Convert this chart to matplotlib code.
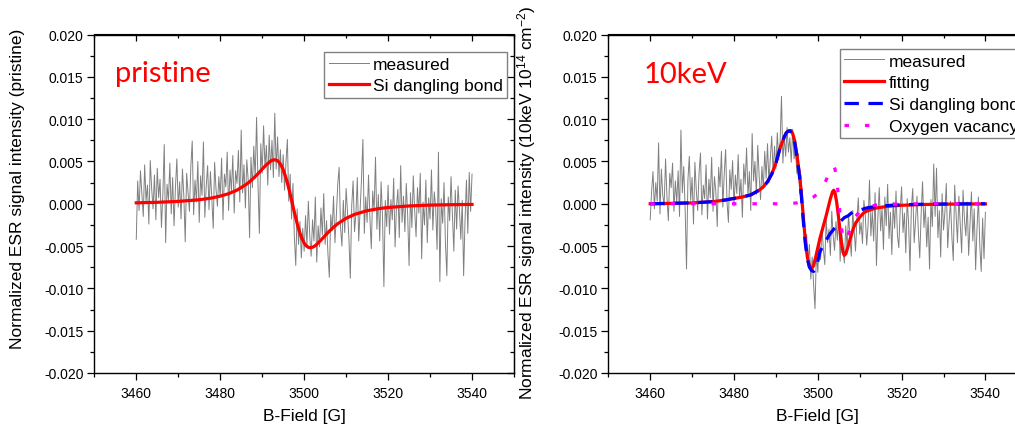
import numpy as np
import matplotlib.pyplot as plt
from matplotlib.ticker import MultipleLocator, FormatStrFormatter

plt.rcParams['font.family'] = 'Liberation Sans'
plt.rcParams['mathtext.fontset'] = 'custom'
plt.rcParams['mathtext.rm'] = 'Liberation Sans'
plt.rcParams['mathtext.it'] = 'Liberation Sans:italic'

# B-field sweep of the measured traces (241 samples, 3460..3540 G)
field_start, field_stop = 3460, 3540

# measured ESR signal, pristine sample (x1e-3)
pristine_measured = [
    -4.2, 2.7, -0.8, 3.9, 1.2, -1.5, 4.6, 0.3, 2.2, -2.4, 5.1, 1.8, -0.6, 3.4, -1.9, 4.2, 0.7, 2.9, -2.8, 1.1,
    7.0, -4.6, 2.3, 0.4, 4.8, -1.2, 3.1, -2.6, 1.9, 5.3, -0.4, 2.6, -1.8, 4.1, 0.9, -4.5, 3.6, 1.4, -0.9, 4.4,
    7.4, -1.3, 2.8, 0.2, 5.0, -2.2, 3.3, 1.0, 7.3, -1.6, 2.1, 4.5, -0.7, 3.8, 0.6, -2.9, 4.9, 1.7, -0.3, 3.2,
    0.8, 5.4, -1.9, 3.5, 2.0, 6.1, -0.8, 4.0, 1.5, 5.7, -1.1, 3.9, 2.4, 6.3, 0.2, 8.7, 1.3, 4.6, -0.5, 5.2,
    2.8, -4.0, 5.5, 1.9, 6.8, 3.0, 10.2, 2.4, -3.5, 7.1, 3.6, 9.2, 4.3, 6.9, 2.2, 8.1, 4.0, 7.5, 3.1, 10.7,
    4.1, 7.9, 3.2, 6.4, 2.5, 5.8, 1.6, 4.9, 7.6, 0.3, 3.5, -1.8, 2.4, -3.9, -7.3, -0.6, -4.8, -2.1, -6.4, -2.9,
    -5.6, -1.4, -4.9, 0.3, -3.8, -6.2, -1.9, -4.4, 0.8, -6.9, -2.6, -5.1, -0.5, -3.7, 1.2, -4.8, -2.0, -5.9, -8.7, -1.3,
    -3.2, 0.9, -4.6, -1.5, 2.3, 4.3, -2.8, -5.0, 0.4, -3.4, 1.8, -1.0, -4.1, -8.8, -0.2, 2.7, -3.3, -1.2, 3.1, -4.4,
    -0.6, 2.9, 7.6, -3.5, 0.8, -2.2, 3.4, -1.7, -5.3, 1.5, -0.9, 5.5, -3.0, 1.1, -4.4, 2.6, -1.5, -9.8, 0.4, -2.7,
    2.2, -3.6, 0.5, -1.9, 3.0, -5.1, -0.3, 1.7, -4.0, 4.5, -2.2, 0.9, -3.3, 2.4, -1.4, -7.3, 1.3, -2.8, 3.3, -0.8,
    -3.9, 1.9, -1.1, 3.6, -6.5, 0.2, -2.5, 2.8, -4.6, 0.7, -1.8, 4.0, -3.1, 1.4, -0.4, -5.4, 6.1, -9.2, 0.6, -2.3,
    2.5, -4.7, -8.5, 0.8, -2.0, 3.2, -1.4, -5.6, 1.6, -3.0, 2.1, -0.7, -4.2, 0.4, -8.5, -1.9, 2.8, -3.5, 3.7, -0.9,
    3.5,
]

# measured ESR signal, 10keV implanted sample (x1e-3)
kev10_measured = [
    -1.9, 1.4, 3.8, -0.6, 2.5, 0.3, 7.2, -1.2, 4.1, 1.0, -0.2, 5.3, 0.8, -2.0, 3.6, 1.9, 4.8, -0.9, 2.7, 0.1,
    3.9, -1.5, 8.7, 1.3, 4.4, -0.5, -7.7, 2.8, 5.6, 0.4, 3.1, -2.4, 4.9, 1.6, -0.8, 3.7, 6.0, -1.3, 2.2, 0.6,
    4.6, -1.8, 2.9, 0.7, 5.5, -0.9, 3.2, 1.4, -2.7, 4.3, 2.0, 6.2, -0.4, 3.5, 6.4, 0.2, -2.2, 4.0, 1.7, 5.1,
    -0.3, 3.4, 1.2, 5.8, 0.6, 2.9, -1.6, 4.7, 2.3, 6.6, 0.9, 3.8, -0.8, 8.3, 2.7, 5.0, 1.1, 6.9, 3.3, 0.5,
    4.4, 1.8, 6.2, 3.0, 7.1, 2.5, 5.4, 8.0, 3.7, 6.8, 4.1, 8.4, 5.2, 7.3, 12.7, 4.8, 7.9, 5.6, 9.0, 6.1,
    7.8, 4.9, 8.8, 5.3, 6.5, 3.6, 5.9, 1.2, 3.4, -0.8, -2.9, -5.1, -3.6, -7.0, -4.8, -8.9, -6.3, -9.6, -12.4, -5.7,
    -8.1, -4.2, -6.6, -2.9, -5.4, -7.2, -1.8, -4.6, -3.0, -6.1, -0.9, -3.8, -5.5, -2.1, -4.3, -0.6, -6.8, -3.2, -5.0, -7.0,
    -2.6, -5.3, -1.2, -4.0, -6.2, -0.8, -3.1, -5.6, -1.9, 0.7, -3.6, -2.2, -4.7, 0.4, -1.4, -4.9, -2.5, 2.8, -3.8, -0.9,
    -4.4, 1.3, -7.3, -1.7, 1.9, -3.2, -0.5, -5.4, 0.8, -2.6, 2.3, -4.1, -1.0, -6.0, 0.2, -2.9, 1.5, -3.7, -5.2, -0.7,
    2.0, -3.4, -1.1, -5.8, 0.6, -2.3, -7.9, -0.4, 1.8, -4.6, -2.0, 0.9, -3.3, -6.4, -1.2, 2.6, -2.8, -0.3, -5.1, -1.6,
    -7.7, 0.5, -2.7, 4.7, -1.5, 4.2, -4.0, -0.8, -6.3, 1.2, -3.1, -1.0, 2.4, -5.2, -2.2, 0.3, -3.9, -6.7, 2.2, -1.3,
    -4.6, 0.9, -2.5, -5.8, 1.6, -1.9, -3.8, 0.2, -6.1, -2.3, 1.4, -4.4, -0.6, -7.8, -2.9, 0.8, -5.0, -8.0, -1.7, -6.5,
    -1.0,
]

# Si dangling bond fit, pristine (x1e-3)
pristine_fit_b = [3460, 3465, 3470, 3475, 3478, 3480, 3482, 3484, 3486, 3487, 3488, 3489, 3490, 3491, 3492,
                  3492.5, 3493, 3493.5, 3494, 3494.5, 3495, 3495.5, 3496, 3496.5, 3497, 3497.5, 3498, 3498.5,
                  3499, 3499.5, 3500, 3500.5, 3501, 3501.5, 3502, 3502.5, 3503, 3504, 3505, 3506, 3507, 3508,
                  3510, 3512, 3515, 3518, 3520, 3525, 3530, 3535, 3540]
pristine_fit = [0.11, 0.17, 0.28, 0.47, 0.68, 0.90, 1.19, 1.61, 2.22, 2.60, 3.05, 3.55, 4.09, 4.61, 5.03,
                5.16, 5.20, 5.13, 4.92, 4.56, 4.03, 3.33, 2.47, 1.49, 0.43, -0.65, -1.70, -2.66,
                -3.48, -4.15, -4.64, -4.97, -5.15, -5.20, -5.14, -5.00, -4.80, -4.30, -3.76, -3.24, -2.77, -2.36,
                -1.72, -1.26, -0.82, -0.56, -0.44, -0.26, -0.16, -0.11, -0.08]

# 10keV fit components (x1e-3)
kev10_fit_b = [3460, 3465, 3470, 3475, 3478, 3480, 3482, 3484, 3486, 3487, 3488, 3489, 3490, 3491, 3492,
               3492.5, 3493, 3493.5, 3494, 3494.5, 3495, 3495.5, 3496, 3496.5, 3497, 3497.5, 3498, 3498.5,
               3499, 3499.5, 3500, 3500.5, 3501, 3501.5, 3502, 3502.5, 3503, 3503.5, 3503.8, 3504.1, 3504.5,
               3505, 3505.5, 3506, 3506.3, 3506.7, 3507.3, 3508, 3508.5, 3509, 3510, 3511, 3512, 3514, 3516,
               3518, 3520, 3525, 3530, 3535, 3540]
kev10_fitting = [0.0, 0.05, 0.1, 0.25, 0.45, 0.63, 0.8, 1.05, 1.6, 2.0, 2.6, 3.5, 4.8, 6.6, 7.9,
                 8.4, 8.6, 8.65, 8.3, 7.4, 5.8, 4.0, 1.7, -1.3, -4.2, -6.3, -7.4, -7.7,
                 -7.3, -6.3, -5.2, -4.1, -3.2, -2.3, -1.4, -0.4, 0.6, 1.4, 1.6, 1.3, 0.2,
                 -1.8, -4.2, -5.7, -6.1, -5.9, -4.9, -3.7, -2.9, -2.3, -1.6, -1.05, -0.8, -0.5, -0.35,
                 -0.25, -0.18, -0.09, -0.05, -0.03, -0.02]
kev10_si_db = [0.0, 0.05, 0.1, 0.25, 0.45, 0.63, 0.8, 1.05, 1.6, 2.0, 2.6, 3.5, 4.8, 6.6, 7.9,
               8.4, 8.6, 8.6, 8.2, 7.2, 5.6, 3.8, 1.4, -1.8, -4.6, -6.5, -7.5, -7.9,
               -8.0, -7.7, -6.8, -5.7, -5.2, -4.7, -4.3, -3.9, -3.5, -3.2, -3.0, -2.85, -2.6,
               -2.3, -2.05, -1.8, -1.65, -1.55, -1.4, -1.1, -0.95, -0.85, -0.75, -0.6, -0.45, -0.33, -0.24,
               -0.16, -0.12, -0.06, -0.03, -0.01, 0.0]
kev10_oxygen = [0.0, 0.0, 0.0, 0.0, 0.0, 0.0, 0.0, 0.0, 0.0, 0.0, 0.0, 0.0, 0.0, 0.0, 0.0,
                0.0, 0.0, 0.05, 0.05, 0.08, 0.1, 0.18, 0.25, 0.32, 0.4, 0.5, 0.6, 0.7,
                0.8, 1.0, 1.2, 1.5, 1.8, 2.3, 2.8, 3.4, 4.0, 4.4, 4.5, 4.1, 3.0,
                0.5, -2.4, -4.0, -4.4, -4.3, -3.6, -2.6, -2.0, -1.5, -0.9, -0.55, -0.35, -0.15, -0.08,
                -0.05, -0.03, 0.0, 0.0, 0.0, 0.0]

field = np.linspace(field_start, field_stop, len(pristine_measured))
milli = 1e-3

fig = plt.figure(figsize=(10.15, 4.27), dpi=100)
ax1 = fig.add_axes([94.3 / 1015, 53 / 427, 419.7 / 1015, 338.5 / 427])
ax2 = fig.add_axes([608.3 / 1015, 53 / 427, 419.0 / 1015, 338.5 / 427])


def style_axes(ax):
    ax.set_xlim(3450, 3550)
    ax.set_ylim(-0.02, 0.02)
    ax.xaxis.set_major_locator(MultipleLocator(20))
    ax.xaxis.set_minor_locator(MultipleLocator(10))
    ax.yaxis.set_major_locator(MultipleLocator(0.005))
    ax.yaxis.set_minor_locator(MultipleLocator(0.0025))
    ax.yaxis.set_major_formatter(FormatStrFormatter('%.3f'))
    ax.tick_params(which='both', direction='out', width=0.9, labelsize=10, colors='black')
    ax.tick_params(which='major', length=4.8)
    ax.tick_params(which='minor', length=2.8)
    ax.tick_params(axis='y', pad=3)
    ax.tick_params(axis='x', pad=4.5)
    for s in ax.spines.values():
        s.set_linewidth(1.0)
    # mirrored ticks pointing inward on top and right
    top = ax.secondary_xaxis('top')
    top.xaxis.set_major_locator(MultipleLocator(20))
    top.xaxis.set_minor_locator(MultipleLocator(10))
    top.tick_params(which='both', direction='in', labeltop=False, width=0.9)
    top.tick_params(which='major', length=4.8)
    top.tick_params(which='minor', length=2.8)
    right = ax.secondary_yaxis('right')
    right.yaxis.set_major_locator(MultipleLocator(0.005))
    right.yaxis.set_minor_locator(MultipleLocator(0.0025))
    right.tick_params(which='both', direction='in', labelright=False, width=0.9)
    right.tick_params(which='major', length=4.8)
    right.tick_params(which='minor', length=2.8)
    ax.set_xlabel('B-Field [G]', fontsize=12.5, labelpad=6)


def add_legend(ax, anchor):
    leg = ax.legend(loc='upper left', bbox_to_anchor=anchor, borderaxespad=0, fontsize=12.5,
                    fancybox=False, edgecolor='#808080', framealpha=1, borderpad=0.25,
                    handlelength=2.3, handletextpad=0.25, labelspacing=0.38)
    leg.get_frame().set_linewidth(1.0)
    return leg


# pristine panel
ax1.plot(field, np.array(pristine_measured) * milli, color='#808080', lw=0.7, label='measured', zorder=1)
ax1.plot(pristine_fit_b, np.array(pristine_fit) * milli, color='#ff0000', lw=2.3,
         label='Si dangling bond', zorder=2)
style_axes(ax1)
ax1.set_ylabel('Normalized ESR signal intensity (pristine)', fontsize=12.5)
ax1.yaxis.set_label_coords(-0.165, 0.548)
ax1.text(0.05, 0.863, 'pristine', transform=ax1.transAxes, color='#ff0000',
         fontsize=21, family='Lato', ha='left', va='baseline')
add_legend(ax1, (0.548, 0.948))

# 10keV panel
ax2.plot(field, np.array(kev10_measured) * milli, color='#808080', lw=0.7, label='measured', zorder=1)
ax2.plot(kev10_fit_b, np.array(kev10_fitting) * milli, color='#ff0000', lw=2.3, label='fitting', zorder=2)
ax2.plot(kev10_fit_b, np.array(kev10_si_db) * milli, color='#0000ff', lw=2.3, dashes=(4.5, 3),
         label='Si dangling bond', zorder=3)
ax2.plot(kev10_fit_b, np.array(kev10_oxygen) * milli, color='#ff00ff', lw=2.3, dashes=(1.4, 5),
         label='Oxygen vacancy', zorder=4)
style_axes(ax2)
ax2.set_ylabel('Normalized ESR signal intensity (10keV 10$^{14}$ cm$^{-2}$)', fontsize=12.5)
ax2.yaxis.set_label_coords(-0.168, 0.507)
ax2.text(0.085, 0.86, '10keV', transform=ax2.transAxes, color='#ff0000',
         fontsize=21, family='Lato', ha='left', va='baseline')
add_legend(ax2, (0.553, 0.957))

fig.savefig('out.png', dpi=100)
